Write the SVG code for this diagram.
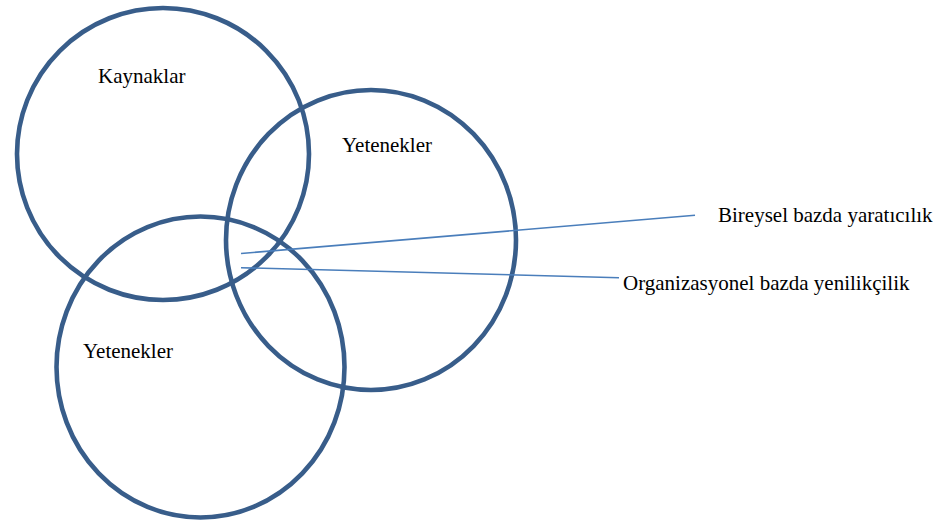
<svg xmlns="http://www.w3.org/2000/svg" width="947" height="525" viewBox="0 0 947 525">
  <style>
    .ring { fill: none; stroke: #385d8a; stroke-width: 4.6; }
    .lead { fill: none; stroke: #4a7ebb; stroke-width: 1.6; }
    .lbl { font-family: "Liberation Serif", "Times New Roman", serif; font-size: 21px; fill: #000; }
  </style>
  <rect width="947" height="525" fill="#fff"/>

  <g id="kaynaklar">
    <ellipse class="ring" cx="163" cy="154" rx="146" ry="146"/>
    <text class="lbl" x="98" y="83">Kaynaklar</text>
  </g>

  <g id="yetenekler-sag">
    <ellipse class="ring" cx="371" cy="240" rx="145" ry="150"/>
    <text class="lbl" x="342" y="152">Yetenekler</text>
  </g>

  <g id="yetenekler-alt">
    <ellipse class="ring" cx="200.5" cy="367" rx="144" ry="150.5"/>
    <text class="lbl" x="83" y="358">Yetenekler</text>
  </g>

  <g id="connectors">
    <line class="lead" x1="241" y1="253.5" x2="695" y2="215.3"/>
    <line class="lead" x1="241" y1="267.7" x2="619" y2="277.7"/>
  </g>

  <g id="bireysel">
    <text class="lbl" x="718" y="222">Bireysel bazda yaratıcılık</text>
  </g>

  <g id="organizasyonel">
    <text class="lbl" x="623" y="290">Organizasyonel bazda yenilikçilik</text>
  </g>
</svg>
